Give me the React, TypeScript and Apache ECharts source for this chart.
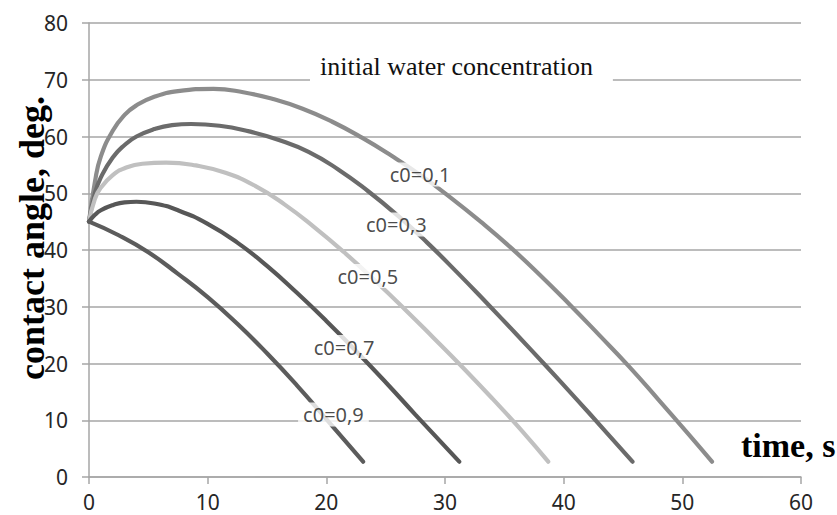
import React, { useEffect, useRef } from "react";
import * as echarts from "echarts";

const xTicks = [0, 10, 20, 30, 40, 50, 60];
const yTicks = [0, 10, 20, 30, 40, 50, 60, 70, 80];

const seriesNames = ["c0=0,1", "c0=0,3", "c0=0,5", "c0=0,7", "c0=0,9"];

const c01: [number, number][] = [
  [0, 45], [0.5, 52], [1, 56.5], [2, 61], [3, 63.8], [4, 65.5], [5.5, 67],
  [7.5, 68], [10.5, 68.4], [13, 67.8], [15.5, 66.6], [18, 64.9], [20.5, 62.6],
  [23, 59.8], [25.5, 56.6], [28, 53.1], [30.5, 49.2], [33, 45], [35.5, 40.5],
  [38, 35.6], [40.5, 30.4], [43, 25], [45.5, 19.5], [48, 13.6], [50.5, 7.6],
  [52.5, 2.7],
];
const c03: [number, number][] = [
  [0, 45], [0.5, 50], [1, 52.8], [2, 56.3], [3, 58.5], [4, 60], [5.5, 61.3],
  [7, 62], [8.6, 62.2], [11, 61.9], [13.5, 60.9], [16, 59.4], [18.5, 57.3],
  [21, 54.2], [23.5, 50.4], [26, 46.1], [28.5, 41.3], [31, 36.1], [33.5, 30.7],
  [36, 25.2], [38.5, 19.6], [41, 13.9], [43.5, 8.1], [45.8, 2.7],
];
const c05: [number, number][] = [
  [0, 45], [0.5, 49], [1, 51], [2, 53.2], [3, 54.4], [4.5, 55.2], [6.5, 55.4],
  [9, 54.9], [11.5, 53.6], [14, 51.3], [16.5, 48], [19, 44], [21.5, 39.6],
  [24, 34.8], [26.5, 29.8], [29, 24.6], [31.5, 19.3], [34, 13.8], [36.5, 8.1],
  [38.7, 2.7],
];
const c07: [number, number][] = [
  [0, 45], [0.5, 46.2], [1, 47], [2, 47.9], [3, 48.4], [4, 48.5], [5.5, 48.2],
  [7.5, 47], [10, 44.6], [12.5, 41.3], [15, 37.2], [17.5, 32.5], [20, 27.5],
  [22.5, 22.2], [25, 16.7], [27.5, 11], [31.2, 2.7],
];
const c09: [number, number][] = [
  [0, 45], [2.5, 42.6], [5, 39.6], [7.5, 35.8], [10, 31.7], [12.5, 27],
  [15, 21.8], [17.5, 16.2], [20, 10.2], [23.1, 2.7],
];

const curves = [c01, c03, c05, c07, c09];
const colors = ["#8c8c8c", "#6b6b6b", "#c0c0c0", "#575757", "#5c5c5c"];

const labelPositions: [number, number][] = [
  [27.9, 53.3],
  [25.9, 44.5],
  [23.5, 35.4],
  [21.5, 22.9],
  [20.6, 11],
];

export default function App() {
  const ref = useRef<HTMLDivElement>(null);
  useEffect(() => {
    if (!ref.current) return;
    const chart = echarts.init(ref.current, null, { renderer: "svg" });
    const lineSeries = curves.map((data, i) => ({
      type: "line",
      name: seriesNames[i],
      data,
      smooth: 0.5,
      showSymbol: false,
      symbol: "none",
      lineStyle: { color: colors[i], width: 4.2, cap: "round", join: "round" },
      z: 3,
    }));
    chart.setOption({
      animation: false,
      backgroundColor: "#fff",
      grid: { left: 89, right: 36, top: 23, bottom: 38 },
      xAxis: {
        type: "value",
        min: 0,
        max: 60,
        interval: 10,
        axisLine: { show: true, lineStyle: { color: "#a6a6a6", width: 1.5 } },
        axisTick: { show: true, length: 7, lineStyle: { color: "#a6a6a6", width: 1.5 } },
        axisLabel: {
          margin: 14,
          color: "#262626",
          fontFamily: "Noto Sans",
          fontSize: 21,
          formatter: (v: number) => (xTicks.includes(v) ? String(v) : ""),
        },
        splitLine: { show: false },
      },
      yAxis: {
        type: "value",
        min: 0,
        max: 80,
        interval: 10,
        axisLine: { show: true, lineStyle: { color: "#a6a6a6", width: 1.5 } },
        axisTick: { show: true, length: 7, lineStyle: { color: "#a6a6a6", width: 1.5 } },
        axisLabel: {
          margin: 21,
          color: "#262626",
          fontFamily: "Noto Sans",
          fontSize: 21,
          formatter: (v: number) => (yTicks.includes(v) ? String(v) : ""),
        },
        splitLine: { show: true, lineStyle: { color: "#a6a6a6", width: 1.5 } },
      },
      series: [
        ...lineSeries,
        {
          type: "scatter",
          data: labelPositions.map((p, i) => ({ value: p, name: seriesNames[i] })),
          symbolSize: 0,
          z: 10,
          silent: true,
          label: {
            show: true,
            position: "inside",
            formatter: (p: any) => p.name,
            color: "#1a1a1a",
            fontFamily: "Noto Sans",
            fontSize: 20,
            backgroundColor: "#fff",
            padding: [2, 5],
          },
        },
      ],
      graphic: [
        {
          type: "text",
          z: 100,
          left: 310,
          top: 51,
          style: {
            text: "initial water concentration",
            fontFamily: "Liberation Serif",
            fontSize: 26,
            fill: "#111",
            backgroundColor: "#fff",
            padding: [2, 20, 4, 10],
          },
        },
        {
          type: "text",
          z: 100,
          x: 741,
          y: 445,
          style: {
            text: "time, s",
            fontFamily: "Liberation Serif",
            fontWeight: "bold",
            fontSize: 34,
            fill: "#000",
            verticalAlign: "middle",
          },
        },
        {
          type: "text",
          z: 100,
          x: 32,
          y: 238,
          rotation: Math.PI / 2,
          style: {
            text: "contact angle, deg.",
            fontFamily: "Liberation Serif",
            fontWeight: "bold",
            fontSize: 36,
            fill: "#000",
            align: "center",
            verticalAlign: "middle",
          },
        },
      ],
    });
    return () => chart.dispose();
  }, []);
  return (
    <div
      ref={ref}
      style={{ position: "fixed", left: 0, top: 0, width: 837, height: 515, background: "#fff" }}
    />
  );
}
